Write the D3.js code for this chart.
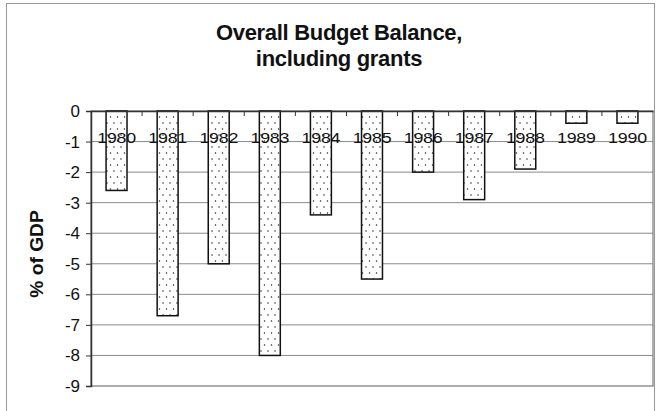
<!DOCTYPE html>
<html><head><meta charset="utf-8">
<script src="https://cdn.jsdelivr.net/npm/d3@7"></script>
<style>body{margin:0;background:#fff}svg{display:block}</style>
</head><body>
<svg id="c" width="656" height="411"></svg>
<script>
const years = ["1980","1981","1982","1983","1984","1985","1986","1987","1988","1989","1990"];
const balance = [-2.6,-6.7,-5.0,-8.0,-3.4,-5.5,-2.0,-2.9,-1.9,-0.4,-0.4];
const yTicks = [0,-1,-2,-3,-4,-5,-6,-7,-8,-9];
const titleLines = ["Overall Budget Balance,","including grants"];
const yLabel = "% of GDP";

const FONT = "Liberation Sans, Arial, sans-serif";
const svg = d3.select("#c");
const m = {l:91, t:111, r:653, b:386};
const x = d3.scaleBand().domain(years).range([m.l, m.r]).paddingInner(0.59).paddingOuter(0.295);
const y = d3.scaleLinear().domain([-9,0]).range([m.b, m.t]);

const defs = svg.append("defs");
const pat = defs.append("pattern").attr("id","dots").attr("patternUnits","userSpaceOnUse")
  .attr("width",7).attr("height",12);
pat.append("rect").attr("width",7).attr("height",12).attr("fill","#fff");
pat.append("circle").attr("cx",2).attr("cy",3).attr("r",0.75).attr("fill","#222");
pat.append("circle").attr("cx",5.5).attr("cy",9).attr("r",0.75).attr("fill","#222");

// outer frame
svg.append("rect").attr("x",6.5).attr("y",3.5).attr("width",648).attr("height",410)
  .attr("fill","none").attr("stroke","#999").attr("stroke-width",1);

// title
svg.append("g").selectAll("text").data(titleLines).join("text")
  .attr("x",339).attr("y",(d,i)=>40+i*26).attr("text-anchor","middle")
  .attr("font-family",FONT).attr("font-weight","bold")
  .attr("font-size",22).attr("letter-spacing",-0.3).attr("fill","#111").text(d=>d);

// gridlines
svg.append("g").selectAll("line").data(yTicks.filter(d=>d!==0&&d!==-9)).join("line")
  .attr("x1",m.l).attr("x2",m.r).attr("y1",d=>y(d)).attr("y2",d=>y(d))
  .attr("stroke","#8a8a8a").attr("stroke-width",1);

// plot border
svg.append("rect").attr("x",m.l).attr("y",m.t).attr("width",m.r-m.l).attr("height",m.b-m.t)
  .attr("fill","none").attr("stroke","#777").attr("stroke-width",1.2);

// y axis
const yAxis = d3.axisLeft(y).tickValues(yTicks).tickSize(5).tickFormat(d=>d===0?"0":String(d));
const ya = svg.append("g").attr("transform",`translate(${m.l},0)`).call(yAxis);
ya.select(".domain").attr("stroke","#333").attr("stroke-width",1.5);
ya.selectAll(".tick line").attr("stroke","#333");
ya.selectAll("text").attr("font-family",FONT).attr("font-size",17)
  .attr("fill","#111").attr("x",-11);

// bars
svg.append("g").selectAll("rect").data(years).join("rect")
  .attr("x",d=>x(d)).attr("width",x.bandwidth())
  .attr("y",y(0)).attr("height",(d,i)=>y(balance[i])-y(0))
  .attr("fill","url(#dots)").attr("stroke","#111").attr("stroke-width",1.5);

// x axis at zero
const xAxis = d3.axisBottom(x).tickSize(0).tickFormat("");
const xa = svg.append("g").attr("transform",`translate(0,${y(0)})`).call(xAxis);
xa.select(".domain").attr("stroke","#333").attr("stroke-width",1.5);
const bounds = d3.range(1, years.length).map(i => m.l + i*(m.r-m.l)/years.length);
svg.append("g").selectAll("line").data(bounds).join("line")
  .attr("x1",d=>d).attr("x2",d=>d).attr("y1",y(0)).attr("y2",y(0)+5)
  .attr("stroke","#333").attr("stroke-width",1);

// category labels
svg.append("g").selectAll("text").data(years).join("text")
  .attr("transform",d=>`translate(${x(d)+x.bandwidth()/2},142.5) scale(1.15,1)`)
  .attr("text-anchor","middle")
  .attr("font-family",FONT).attr("font-size",15.5).attr("letter-spacing",-0.2)
  .attr("fill","#111").text(d=>d);

// y label
svg.append("text").attr("transform","translate(43,254) rotate(-90) scale(1.1,1)").attr("text-anchor","middle")
  .attr("font-family",FONT).attr("font-weight","bold")
  .attr("font-size",17.5)
  .attr("fill","#111").text(yLabel);
</script>
</body></html>
